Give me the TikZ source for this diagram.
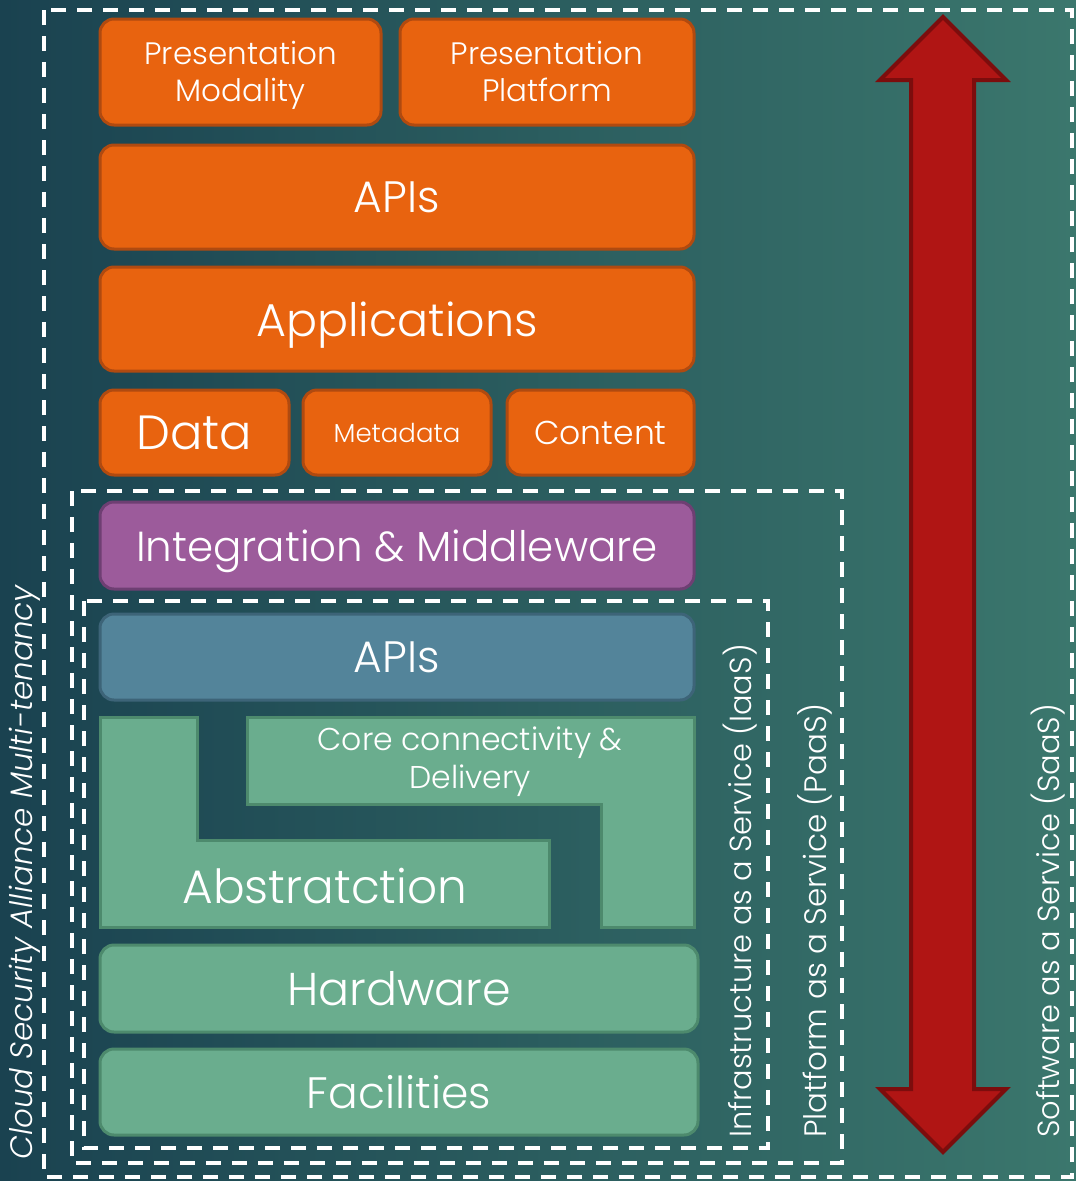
\documentclass[tikz,border=0pt]{standalone}
\usepackage{fontspec}
\setmainfont{Poppins}[UprightFont={* Light},ItalicFont={* Light Italic}]
\definecolor{bgdark}{HTML}{1A4250}
\definecolor{bglight}{HTML}{3B776D}
\definecolor{orangefill}{HTML}{E8630F}
\definecolor{orangeedge}{HTML}{B04A10}
\definecolor{purplefill}{HTML}{9C5B9B}
\definecolor{purpleedge}{HTML}{6E3F73}
\definecolor{bluefill}{HTML}{53849A}
\definecolor{blueedge}{HTML}{3D6478}
\definecolor{greenfill}{HTML}{6AAD8E}
\definecolor{greenedge}{HTML}{4D8A6D}
\definecolor{arrowfill}{HTML}{B01514}
\definecolor{arrowedge}{HTML}{7C0D0D}
\newcommand{\fsz}[1]{\fontsize{#1}{1.2\dimexpr#1pt\relax}\selectfont}
\tikzset{
  layer/.style={draw,line width=3pt,rounded corners=14pt,text=white,align=center,inner sep=0pt},
  oneline/.style={text depth=0pt},
  orangebox/.style={layer,fill=orangefill,draw=orangeedge},
  purplebox/.style={layer,fill=purplefill,draw=purpleedge},
  bluebox/.style={layer,fill=bluefill,draw=blueedge},
  greenbox/.style={layer,fill=greenfill,draw=greenedge},
  greenpart/.style={fill=greenfill,draw=greenedge,line width=3pt},
  zone/.style={draw=white,line width=3.5pt,dash pattern=on 15pt off 11pt},
  sidelabel/.style={rotate=90,anchor=west,inner sep=0pt,text=white,font=\fsz{30.5}}
}

\begin{document}
\begin{tikzpicture}[x=1pt,y=-1pt]
\useasboundingbox (0,0) rectangle (1076,1181);
\fill[left color=bgdark,right color=bglight] (0,0) rectangle (1076,1181);

\node[orangebox, minimum width=281pt, minimum height=106pt, font=\fsz{31}, text depth=2pt] (pmod) at (240.5,72) {Presentation\\Modality};
\node[orangebox, minimum width=294pt, minimum height=106pt, font=\fsz{31}, text depth=2pt] (pplat) at (547,72) {Presentation\\Platform};
\node[orangebox, oneline, minimum width=594pt, minimum height=104pt, font=\fsz{44}] (apis) at (397,197) {APIs};
\node[orangebox, oneline, minimum width=594pt, minimum height=104pt, font=\fsz{46}] (apps) at (397,319) {Applications};
\node[orangebox, oneline, minimum width=189pt, minimum height=85pt, font=\fsz{48}] (data) at (194.5,432.5) {Data};
\node[orangebox, oneline, minimum width=188pt, minimum height=85pt, font=\fsz{26}] (meta) at (397,432.5) {Metadata};
\node[orangebox, oneline, minimum width=187pt, minimum height=85pt, font=\fsz{33}] (content) at (600.5,432.5) {Content};

\node[purplebox, oneline, minimum width=594pt, minimum height=87pt, font=\fsz{42}] (integ) at (397,545.5) {Integration \& Middleware};
\node[bluebox, oneline, minimum width=594pt, minimum height=86pt, font=\fsz{44}] (iapis) at (397,657) {APIs};

\draw[greenpart] (100,717) -- (197,717) -- (197,840) -- (549,840) -- (549,927) -- (100,927) -- cycle;
\draw[greenpart] (247,717) -- (694,717) -- (694,927) -- (601,927) -- (601,804) -- (247,804) -- cycle;
\node[oneline, text=white, font=\fsz{47}] (abstr) at (325,886) {Abstratction};
\node[text=white, align=center, font=\fsz{31.5}] (core) at (470,762) {Core connectivity \&\\Delivery};

\node[greenbox, oneline, minimum width=598pt, minimum height=87pt, font=\fsz{46}] (hw) at (399,988.5) {Hardware};
\node[greenbox, oneline, minimum width=598pt, minimum height=86pt, font=\fsz{44}] (fac) at (399,1092) {Facilities};

\draw[zone] (44,10) rectangle (1072,1177);
\draw[zone] (72,491) rectangle (842,1163);
\draw[zone] (84,601) rectangle (768,1148);

\draw[fill=arrowfill, draw=arrowedge, line width=4pt, line join=miter]
  (943,17) -- (1006,80) -- (974,80) -- (974,1089) -- (1006,1089) -- (943,1152)
  -- (880,1089) -- (911,1089) -- (911,80) -- (880,80) -- cycle;

\node[sidelabel, font=\fsz{31}\itshape] (csa) at (25,1160) {Cloud Security Alliance Multi-tenancy};
\node[sidelabel] (iaas) at (740,1138) {Infrastructure as a Service (IaaS)};
\node[sidelabel, font=\fsz{31}] (paas) at (815,1138) {Platform as a Service (PaaS)};
\node[sidelabel] (saas) at (1048,1138) {Software as a Service (SaaS)};
\end{tikzpicture}
\end{document}
